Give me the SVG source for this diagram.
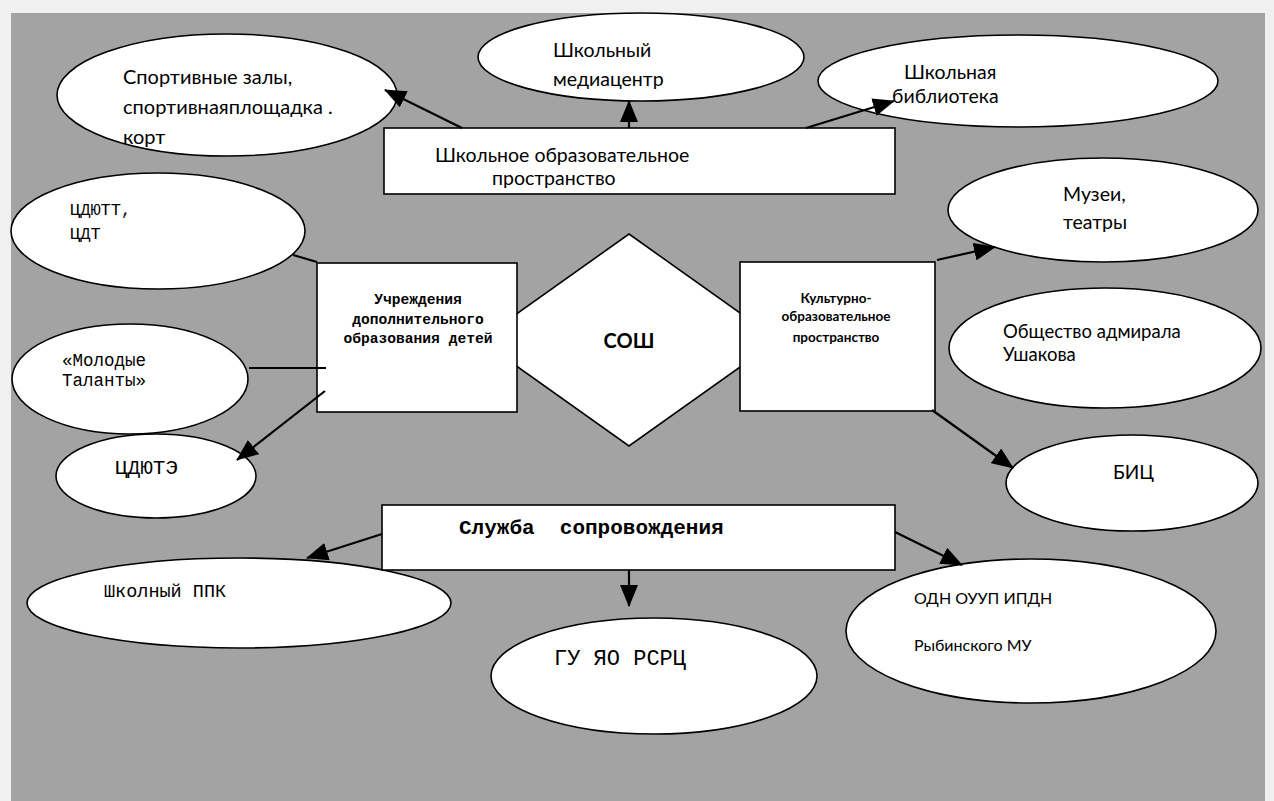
<svg xmlns="http://www.w3.org/2000/svg" width="1274" height="801" viewBox="0 0 1274 801">
<style>
.n{fill:#fff;stroke:#000;stroke-width:1.6}
.c{stroke:#000;stroke-width:2.2;fill:none}
.s{font-family:Lato,"Liberation Sans",sans-serif;fill:#000}
.m{font-family:"Liberation Mono","DejaVu Sans Mono",monospace;fill:#000}
</style>
<defs>
<marker id="a" markerUnits="userSpaceOnUse" markerWidth="22" markerHeight="18" viewBox="0 0 22 18" refX="21" refY="9" orient="auto">
<path d="M0,0 L22,9 L0,18 Z" fill="#000"/>
</marker>
</defs>
<rect x="0" y="0" width="1274" height="801" fill="#f0f0f0"/>
<rect x="11" y="13" width="1254" height="788" fill="#a3a3a3"/>

<g id="sport"><ellipse class="n" cx="227" cy="95" rx="170" ry="61"/>
<text class="s" font-size="20"><tspan x="123" y="84">Спортивные залы,</tspan><tspan x="123" y="114">спортивнаяплощадка .</tspan><tspan x="123" y="144">корт</tspan></text></g>
<g id="media"><ellipse class="n" cx="641" cy="57" rx="163" ry="44"/>
<text class="s" font-size="19.5"><tspan x="553" y="57">Школьный</tspan><tspan x="553" y="86">медиацентр</tspan></text></g>
<g id="library"><ellipse class="n" cx="1018" cy="81" rx="200" ry="46"/>
<text class="s" font-size="19.5"><tspan x="904" y="79">Школьная</tspan><tspan x="892" y="103">библиотека</tspan></text></g>
<g id="museums"><ellipse class="n" cx="1103" cy="210" rx="155" ry="52"/>
<text class="s" font-size="19.5"><tspan x="1063" y="201">Музеи,</tspan><tspan x="1063" y="229">театры</tspan></text></g>
<g id="ushakov"><ellipse class="n" cx="1105" cy="348" rx="156" ry="60"/>
<text class="s" font-size="18.5"><tspan x="1003" y="338">Общество адмирала</tspan><tspan x="1003" y="361">Ушакова</tspan></text></g>
<g id="bic"><ellipse class="n" cx="1132" cy="483" rx="126" ry="48"/>
<text class="s" font-size="19" x="1113" y="479">БИЦ</text></g>
<g id="cdutt"><ellipse class="n" cx="158" cy="231" rx="147" ry="58"/>
<text class="m" font-size="17"><tspan x="70" y="215">ЦДЮТТ,</tspan><tspan x="70" y="239">ЦДТ</tspan></text></g>
<g id="talents"><ellipse class="n" cx="130" cy="379" rx="118" ry="55"/>
<text class="m" font-size="17.5"><tspan x="62" y="366">«Молодые</tspan><tspan x="62" y="386">Таланты»</tspan></text></g>
<g id="cdute"><ellipse class="n" cx="156" cy="476" rx="100" ry="42"/>
<text class="m" font-size="21" x="115" y="474">ЦДЮТЭ</text></g>
<g id="ppk"><ellipse class="n" cx="239" cy="603" rx="212" ry="45"/>
<text class="m" font-size="18.5" x="104" y="597">Школный ППК</text></g>
<g id="rsrc"><ellipse class="n" cx="654" cy="676" rx="163" ry="58"/>
<text class="m" font-size="22" x="554" y="665">ГУ ЯО РСРЦ</text></g>
<g id="odn"><ellipse class="n" cx="1031" cy="631" rx="185" ry="72"/>
<text class="s" font-size="16"><tspan x="914" y="604">ОДН ОУУП ИПДН</tspan><tspan x="914" y="651">Рыбинского МУ</tspan></text></g>

<g id="sosh"><path class="n" d="M629,234 L778,340 L629,446 L480,340 Z"/>
<text class="s" font-size="20" font-weight="bold" x="629" y="348" text-anchor="middle">СОШ</text></g>
<g id="school-space"><rect class="n" x="384" y="128" width="511" height="66"/>
<text class="s" font-size="19.5"><tspan x="435" y="162">Школьное образовательное</tspan><tspan x="492" y="185">пространство</tspan></text></g>
<g id="dop"><rect class="n" x="317" y="263" width="200" height="149"/>
<text class="m" font-size="14.6" font-weight="bold" text-anchor="middle"><tspan x="418" y="304">Учреждения</tspan><tspan x="418" y="324">дополнительного</tspan><tspan x="418" y="343">образования детей</tspan></text></g>
<g id="culture"><rect class="n" x="740" y="262" width="195" height="149"/>
<text class="s" font-size="13.5" font-weight="bold" text-anchor="middle"><tspan x="836" y="303">Культурно-</tspan><tspan x="836" y="321">образовательное</tspan><tspan x="836" y="342">пространство</tspan></text></g>
<g id="support"><rect class="n" x="382" y="505" width="513" height="65"/>
<text class="m" font-size="21" font-weight="bold" x="459" y="534" xml:space="preserve">Служба  сопровождения</text></g>

<g id="connectors">
<line class="c" x1="462" y1="128" x2="385" y2="90" marker-end="url(#a)"/>
<line class="c" x1="629" y1="128" x2="629" y2="101" marker-end="url(#a)"/>
<line class="c" x1="806" y1="128" x2="894" y2="101" marker-end="url(#a)"/>
<line class="c" x1="293" y1="255" x2="317" y2="262"/>
<line class="c" x1="249" y1="368" x2="326" y2="368"/>
<line class="c" x1="325" y1="391" x2="237" y2="460" marker-end="url(#a)"/>
<line class="c" x1="937" y1="260" x2="995" y2="247" marker-end="url(#a)"/>
<line class="c" x1="932" y1="410" x2="1013" y2="468" marker-end="url(#a)"/>
<line class="c" x1="382" y1="534" x2="307" y2="558" marker-end="url(#a)"/>
<line class="c" x1="629" y1="570" x2="629" y2="606" marker-end="url(#a)"/>
<line class="c" x1="895" y1="532" x2="962" y2="565" marker-end="url(#a)"/>
</g>
</svg>
